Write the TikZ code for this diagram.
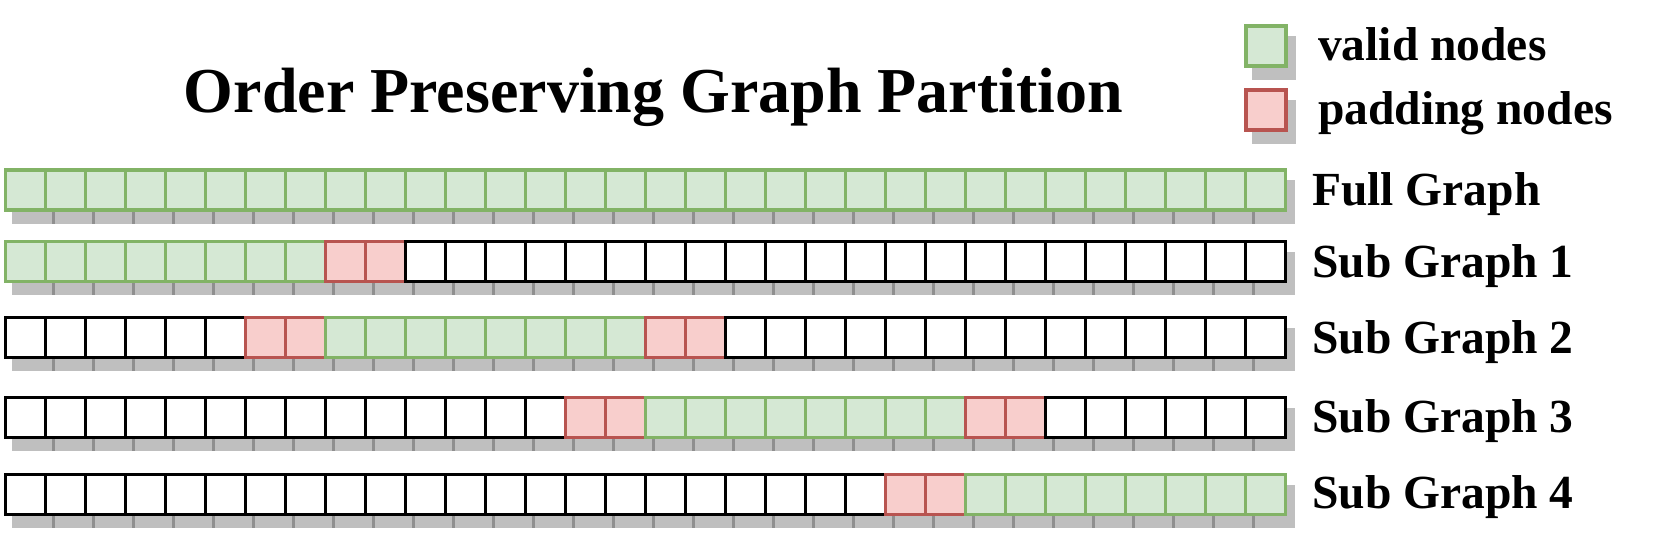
\documentclass[tikz,border=0pt]{standalone}
\usepackage{fontspec}
\setmainfont{Liberation Serif}
\definecolor{gfill}{HTML}{D5E8D4}
\definecolor{gline}{HTML}{82B366}
\definecolor{rfill}{HTML}{F8CECC}
\definecolor{rline}{HTML}{B85450}
\tikzset{
  cellbase/.style={draw, rectangle, minimum width=40pt, minimum height=40pt, inner sep=0pt, outer sep=0pt, line width=3.3pt},
  cellg/.style={cellbase, fill=gfill, draw=gline},
  cellr/.style={cellbase, fill=rfill, draw=rline},
  cellw/.style={cellbase, fill=white, draw=black},
  shadowfill/.style={fill=black, fill opacity=0.25},
  lbl/.style={anchor=base west, inner sep=0pt, font=\fontsize{47.5}{50}\selectfont\bfseries},
  ttl/.style={anchor=base, inner sep=0pt, font=\fontsize{64}{67}\selectfont\bfseries}
}
\newcommand\mycellrow[3]{%
  \foreach \ty [count=\i from 0] in {#3} {
    \fill[shadowfill] ({5.7+40*\i+8-1.65},{#2+12-1.65}) rectangle ++(43.3,43.3);
  }
  \foreach \ty [count=\i from 0] in {#3} {
    \node[cell\ty] (#1c\i) at ({5.7+40*\i+20},{#2+20}) {};
  }
}
\begin{document}
\begin{tikzpicture}[x=1pt,y=-1pt]
\useasboundingbox (0,0) rectangle (1661,558);
% title
\node[ttl] (title) at (653.5,112.3) {Order Preserving Graph Partition};
% legend
\fill[shadowfill] (1246-1.65+8,26-1.65+12) rectangle ++(43.3,43.3);
\node[cellg] (legv) at (1266,46) {};
\fill[shadowfill] (1246-1.65+8,90-1.65+12) rectangle ++(43.3,43.3);
\node[cellr] (legp) at (1266,110) {};
\node[lbl] (legvt) at (1318,60.5) {valid nodes};
\node[lbl] (legpt) at (1318,124.5) {padding nodes};
% rows
\mycellrow{full}{170}{g,g,g,g,g,g,g,g, g,g,g,g,g,g,g,g, g,g,g,g,g,g,g,g, g,g,g,g,g,g,g,g}
\mycellrow{suba}{241.7}{g,g,g,g,g,g,g,g, r,r, w,w,w,w,w,w, w,w,w,w,w,w,w,w, w,w,w,w,w,w,w,w}
\mycellrow{subb}{317.7}{w,w,w,w,w,w, r,r, g,g,g,g,g,g,g,g, r,r, w,w,w,w,w,w, w,w,w,w,w,w,w,w}
\mycellrow{subc}{397.7}{w,w,w,w,w,w,w,w, w,w,w,w,w,w, r,r, g,g,g,g,g,g,g,g, r,r, w,w,w,w,w,w}
\mycellrow{subd}{474.3}{w,w,w,w,w,w,w,w, w,w,w,w,w,w,w,w, w,w,w,w,w,w, r,r, g,g,g,g,g,g,g,g}
% row labels
\node[lbl] (lfull) at (1312,205.5) {Full Graph};
\node[lbl] (lsuba) at (1312,277.2) {Sub Graph 1};
\node[lbl] (lsubb) at (1312,353.2) {Sub Graph 2};
\node[lbl] (lsubc) at (1312,432.2) {Sub Graph 3};
\node[lbl] (lsubd) at (1312,508.8) {Sub Graph 4};
\end{tikzpicture}
\end{document}
